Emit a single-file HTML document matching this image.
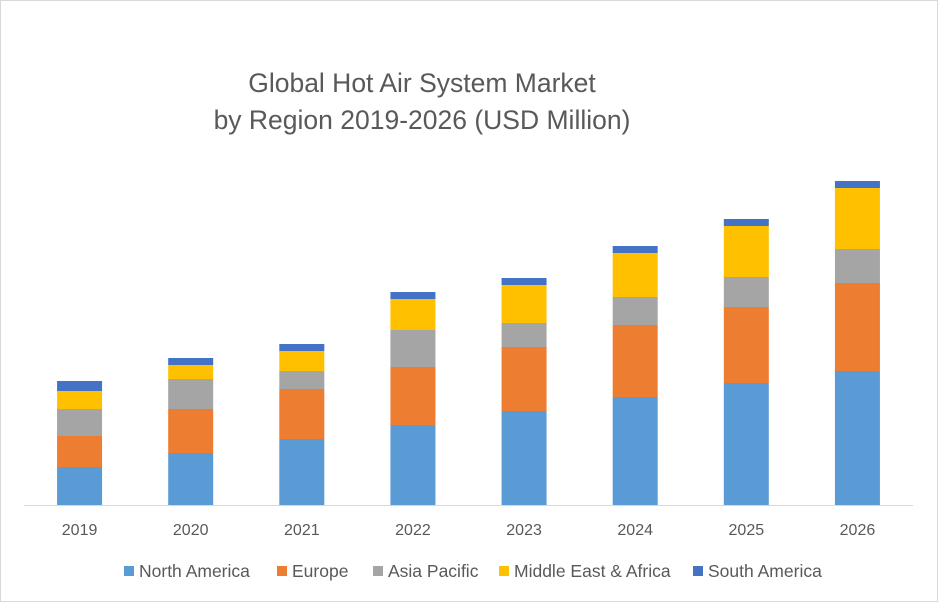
<!DOCTYPE html>
<html><head><meta charset="utf-8"><style>
html,body{margin:0;padding:0;background:#fff;}
svg{display:block;font-family:"Liberation Sans",Calibri,sans-serif;}
</style></head><body>
<svg id="chart" width="938" height="602" viewBox="0 0 938 602">
<rect x="0.5" y="0.5" width="937" height="601" fill="#fff" stroke="#d9d9d9"/>
<text x="422" y="92" text-anchor="middle" font-size="26.5" fill="#595959">Global Hot Air System Market</text>
<text x="422" y="129" text-anchor="middle" font-size="26.5" fill="#595959">by Region 2019-2026 (USD Million)</text>
<g id="bars"></g>
<line x1="24" y1="505.5" x2="913" y2="505.5" stroke="#d9d9d9"/>
<g id="xlabels"></g>
<g id="legend"></g>
</svg>
<script>
const categories = ["2019","2020","2021","2022","2023","2024","2025","2026"];
const seriesNames = ["North America","Europe","Asia Pacific","Middle East & Africa","South America"];
const northAmerica = [38,52,66,80,94,108,122,134];
const europe = [31,44,50,58,64,72,76,88];
const asiaPacific = [27,30,18,37,24,28,30,34];
const middleEastAfrica = [18,14,20,31,38,44,51,61];
const southAmerica = [10,7,7,7,7,7,7,7];
const series = [northAmerica, europe, asiaPacific, middleEastAfrica, southAmerica];
const colors = ["#5b9bd5","#ed7d31","#a5a5a5","#ffc000","#4472c4"];
const NS="http://www.w3.org/2000/svg";
const baseY=505, pxPerUnit=1, left=24, right=913, barW=45;
const band=(right-left)/categories.length;
function xCenter(i){return left+band*(i+0.5);}
function yScale(v){return baseY - v*pxPerUnit;}
const bars=document.getElementById('bars');
categories.forEach((c,i)=>{
  let cum=0;
  series.forEach((s,k)=>{
    const r=document.createElementNS(NS,'rect');
    const y0=yScale(cum), y1=yScale(cum+s[i]);
    r.setAttribute('x',xCenter(i)-barW/2);
    r.setAttribute('y',y1);
    r.setAttribute('width',barW);
    r.setAttribute('height',y0-y1);
    r.setAttribute('fill',colors[k]);
    
    
    bars.appendChild(r);
    cum+=s[i];
  });
  const t=document.createElementNS(NS,'text');
  t.setAttribute('x',xCenter(i));
  t.setAttribute('y',535);
  t.setAttribute('text-anchor','middle');
  t.setAttribute('font-size','16');
  t.setAttribute('fill','#595959');
  t.textContent=c;
  
  
  document.getElementById('xlabels').appendChild(t);
});
const legendX=[124,277,373,499,693];
const lg=document.getElementById('legend');
seriesNames.forEach((n,k)=>{
  const g=document.createElementNS(NS,'g');
  
  
  const r=document.createElementNS(NS,'rect');
  r.setAttribute('x',legendX[k]);r.setAttribute('y',566);
  r.setAttribute('width',10);r.setAttribute('height',10);
  r.setAttribute('fill',colors[k]);
  const t=document.createElementNS(NS,'text');
  t.setAttribute('x',legendX[k]+15);t.setAttribute('y',577);
  t.setAttribute('font-size','17.5');t.setAttribute('fill','#595959');
  t.textContent=n;
  g.appendChild(r);g.appendChild(t);lg.appendChild(g);
});
</script>
</body></html>
